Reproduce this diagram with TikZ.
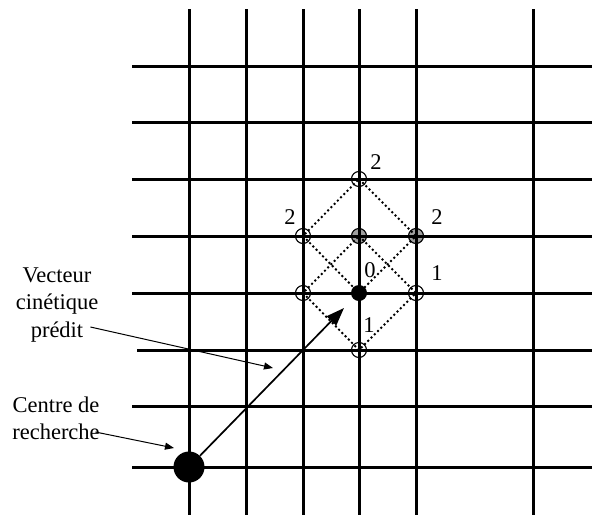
\documentclass[tikz,border=0pt]{standalone}
\usepackage{fontspec}
\setmainfont{Liberation Serif}
\usepackage{tikz}
\usetikzlibrary{arrows.meta, calc}
\definecolor{probegray}{HTML}{A0A0A0}

\begin{document}
\begin{tikzpicture}[
  x=1pt, y=-1pt,
  every node/.style={font=\fontsize{22.5}{27.5}\selectfont},
  grid/.style={line width=3pt},
  probe/.style={circle, draw=black, line width=1.1pt, minimum size=15pt, inner sep=0pt},
  dot/.style={circle, fill=black, inner sep=0pt},
  link/.style={dash pattern=on 2pt off 2.6pt, line width=1.9pt},
  note/.style={line width=1pt, -{Triangle[length=9pt,width=7pt]}},
  tag/.style={inner sep=0pt}
]
  \useasboundingbox (0,0) rectangle (592,520);
  \node[probe, fill=probegray] (pmid) at (359,236) {};
  \node[probe, fill=probegray] (pright) at (416,236) {};
  \node[dot, minimum size=16pt] (pcen) at (359,293) {};
  \node[dot, minimum size=31pt] (start) at (189,467) {};
  \foreach \x in {189,246,303,359,416,533}
    \draw[grid] (\x,9) -- (\x,515);
  \foreach \y in {66,122,179,236,293,406,467}
    \draw[grid] (132,\y) -- (592,\y);
  \draw[grid] (137,350) -- (592,350);
  \node[probe] (ptop) at (359,179) {};
  \node[probe] (pleft) at (303,236) {};
  \node[probe] (pw) at (303,293) {};
  \node[probe] (pe) at (416,293) {};
  \node[probe] (pbot) at (359,350) {};
  \draw[link] (ptop.center) -- (pright.center) -- (pcen.center) -- (pleft.center) -- cycle;
  \draw[link] (pmid.center) -- (pe.center) -- (pbot.center) -- (pw.center) -- cycle;
  \node[tag] (n2t) at (376,162) {2};
  \node[tag] (n2l) at (290,217) {2};
  \node[tag] (n2r) at (437,217) {2};
  \node[tag] (n0) at (370,270) {0};
  \node[tag] (n1r) at (437,273) {1};
  \node[tag] (n1b) at (369,325) {1};
  \coordinate (vtip) at (344,308);
  \draw[line width=1.7pt, -{Triangle[length=18pt,width=13pt]}] (start) -- (vtip);
  \node[align=center, inner sep=0pt] (vec) at (57,305) {Vecteur\\cinétique\\prédit};
  \node[align=center, inner sep=0pt] (cen) at (56,418.5) {Centre de\\recherche};
  \coordinate (vpt) at (273,368);
  \coordinate (cpt) at (174,448);
  \draw[note] ([shift={(-8,22)}]vec.east) -- (vpt);
  \draw[note] ([shift={(-4.5,13.5)}]cen.east) -- (cpt);
\end{tikzpicture}
\end{document}
